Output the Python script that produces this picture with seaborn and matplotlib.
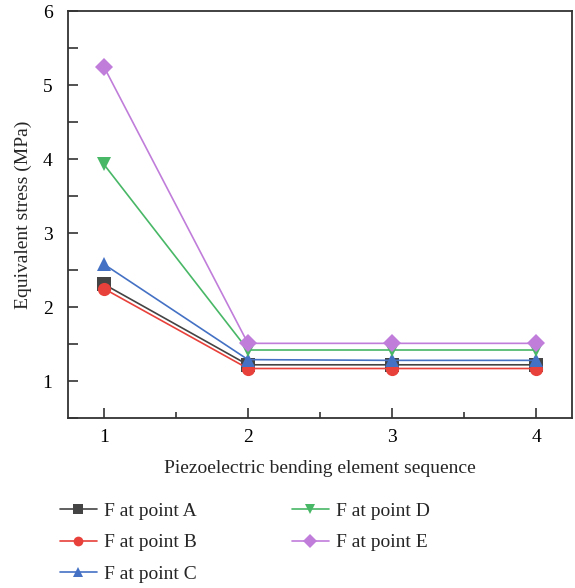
import pandas as pd
import numpy as np
import matplotlib.pyplot as plt
import seaborn as sns
from matplotlib.ticker import MultipleLocator

# data
sequence = [1, 2, 3, 4]
point_a = [2.31, 1.22, 1.22, 1.22]
point_b = [2.25, 1.17, 1.17, 1.17]
point_c = [2.58, 1.29, 1.28, 1.28]
point_d = [3.93, 1.42, 1.42, 1.42]
point_e = [5.25, 1.51, 1.51, 1.51]
labels = ["F at point A", "F at point B", "F at point C", "F at point D", "F at point E"]

df = pd.DataFrame({"Sequence": sequence * 5,
                   "Stress": point_a + point_b + point_c + point_d + point_e,
                   "Series": np.repeat(labels, 4)})

colors = ["#444444", "#e8403a", "#4471c4", "#48b766", "#c07dda"]
markers = ["s", "o", "^", "v", "D"]

sns.set_style("ticks")
plt.rcParams["font.family"] = ["Liberation Serif", "DejaVu Serif"]

fig = plt.figure(figsize=(5.75, 5.88), dpi=100)
ax = fig.add_axes([0.118, 0.289, 0.877, 0.692])

sns.lineplot(data=df, x="Sequence", y="Stress", hue="Series", style="Series",
             palette=dict(zip(labels, colors)), markers=dict(zip(labels, markers)),
             dashes=False, markersize=9.5, markeredgewidth=0, linewidth=1.2, ax=ax)

ax.set_xlim(0.75, 4.25)
ax.set_ylim(0.5, 6)
ax.xaxis.set_major_locator(MultipleLocator(1))
ax.xaxis.set_minor_locator(MultipleLocator(0.5))
ax.yaxis.set_major_locator(MultipleLocator(1))
ax.yaxis.set_minor_locator(MultipleLocator(0.5))
ax.tick_params(which="both", direction="in", width=1.2, labelsize=14, colors="#333333",
               labelcolor="black")
ax.tick_params(which="major", length=7)
ax.tick_params(axis="x", which="minor", length=4)
ax.tick_params(axis="y", which="minor", length=7)
ax.tick_params(axis="x", which="major", pad=8)
ax.tick_params(axis="y", which="major", pad=11)
for s in ax.spines.values():
    s.set_linewidth(1.3)
    s.set_color("#333333")

ax.set_xlabel("Piezoelectric bending element sequence", fontsize=14, labelpad=10)
ax.set_ylabel("Equivalent stress (MPa)", fontsize=14, labelpad=8)

handles, lbls = ax.get_legend_handles_labels()
for h in handles:
    h.set_markersize(7)
ax.legend(handles, lbls, ncol=2, frameon=False, fontsize=14,
          loc="upper left", bbox_to_anchor=(-0.051, -0.163),
          handlelength=1.9, handletextpad=0.36, columnspacing=4.9, labelspacing=0.73)

plt.savefig("out.png", dpi=100)
